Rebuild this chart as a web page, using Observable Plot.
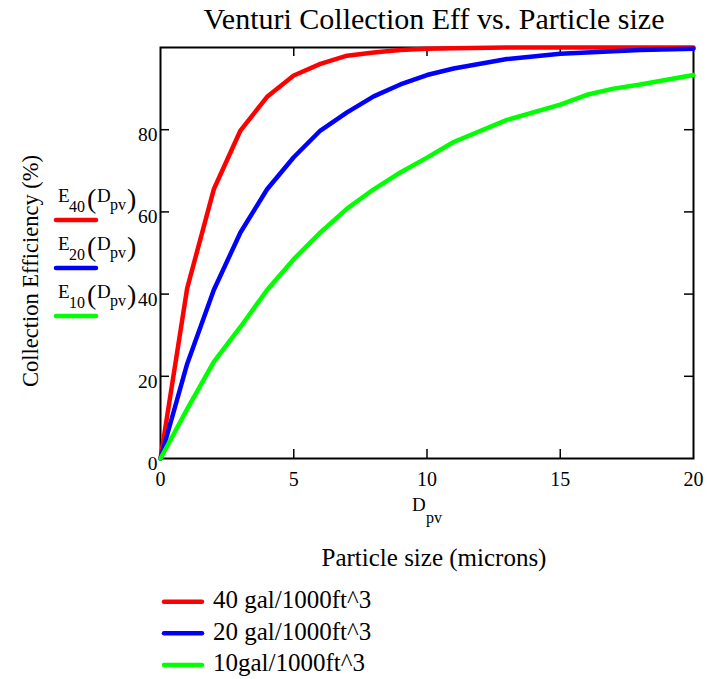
<!DOCTYPE html>
<html><head><meta charset="utf-8">
<script src="https://cdn.jsdelivr.net/npm/d3@7"></script>
<script src="https://cdn.jsdelivr.net/npm/@observablehq/plot@0.6"></script>
<style>body{margin:0;background:#fff} svg text{font-family:"Liberation Serif","Times New Roman",serif !important}</style>
</head><body><div id="chart"></div>
<script>
// Particle size (microns)
const sizes = [0, 1, 2, 3, 4, 5, 6, 7, 8, 9, 10, 11, 13, 15, 16, 17, 18, 20];
// Collection efficiency (%)
const e40 = [0, 41.4, 65.5, 79.8, 88, 93.2, 96, 98, 98.8, 99.4, 99.7, 99.8, 100, 100, 100, 100, 100, 100];
const e20 = [0, 23, 41, 55, 65.5, 73.3, 79.8, 84.2, 88.1, 91, 93.3, 94.9, 97.2, 98.5, 98.8, 99.1, 99.4, 99.7];
const e10 = [0, 12, 23.5, 32, 41, 48.5, 55, 60.8, 65.5, 69.6, 73.2, 77, 82.4, 86.1, 88.5, 90, 91, 93.3];
const seriesNames = ["E40", "E20", "E10"];
const seriesSubs = ["40", "20", "10"];
const colors = ["#ff0000", "#0000ff", "#00ff00"];
const legendLabels = ["40 gal/1000ft^3", "20 gal/1000ft^3", "10gal/1000ft^3"];
const xTicks = [0, 5, 10, 15, 20];
const yTicks = [0, 20, 40, 60, 80];
const titleText = "Venturi Collection Eff vs. Particle size";
const yLabel = "Collection Efficiency (%)";
const xLabel = "Particle size (microns)";

const rows = [];
[e40, e20, e10].forEach((vals, k) => vals.forEach((v, i) => rows.push({size: sizes[i], eff: v, series: seriesNames[k]})));

const W = 707, H = 679, mL = 160, mR = 14, mT = 47, mB = 221;
const fw = W - mL - mR, fh = H - mT - mB;
const font = "'Liberation Serif', 'Times New Roman', serif";

const chart = Plot.plot({
  width: W, height: H,
  marginLeft: mL, marginRight: mR, marginTop: mT, marginBottom: mB,
  style: {fontFamily: font, background: "white", color: "black", overflow: "visible"},
  x: {domain: [0, 20]},
  y: {domain: [0, 100]},
  color: {domain: seriesNames, range: colors},
  marks: [
    Plot.ruleX(xTicks.slice(1, -1), {insetTop: fh - 9, stroke: "black", strokeWidth: 1.5}),
    Plot.ruleX(xTicks.slice(1, -1), {insetBottom: fh - 9, stroke: "black", strokeWidth: 1.5}),
    Plot.ruleY(yTicks.slice(1), {insetRight: fw - 9, stroke: "black", strokeWidth: 1.5}),
    Plot.ruleY(yTicks.slice(1), {insetLeft: fw - 9, stroke: "black", strokeWidth: 1.5}),
    Plot.axisX({ticks: xTicks, tickSize: 0, tickPadding: 27, lineAnchor: "bottom", fontSize: 20, label: null}),
    Plot.axisY({ticks: yTicks, tickSize: 0, tickPadding: 3, lineAnchor: "bottom", dy: 11.5, fontSize: 19.5, label: null}),
    Plot.frame({stroke: "black", strokeWidth: 2}),
    Plot.line(rows, {x: "size", y: "eff", z: "series", stroke: "series", strokeWidth: 4.5})
  ]
});
document.getElementById("chart").appendChild(chart);

const svg = d3.select(chart);
const g = svg.append("g").attr("fill", "black").attr("text-anchor", "start");
g.append("text").attr("x", 434).attr("y", 29).attr("text-anchor", "middle").attr("font-size", 30).text(titleText);
g.append("text").attr("transform", "translate(38,271) rotate(-90)").attr("text-anchor", "middle").attr("font-size", 22.5).text(yLabel);
g.append("text").attr("x", 434).attr("y", 566).attr("text-anchor", "middle").attr("font-size", 25).text(xLabel);
const dl = g.append("text").attr("text-anchor", "start");
dl.append("tspan").attr("x", 412).attr("y", 511).attr("font-size", 19).text("D");
dl.append("tspan").attr("x", 426).attr("y", 523).attr("font-size", 16).text("pv");

seriesNames.forEach((s, k) => {
  const by = 202 + 48 * k;
  const t = g.append("text").attr("text-anchor", "start");
  t.append("tspan").attr("x", 58).attr("y", by).attr("font-size", 19).text("E");
  t.append("tspan").attr("x", 69).attr("y", by + 10).attr("font-size", 16).text(seriesSubs[k]);
  t.append("tspan").attr("x", 87).attr("y", by + 6).attr("font-size", 28).text("(");
  t.append("tspan").attr("x", 97).attr("y", by).attr("font-size", 19).text("D");
  t.append("tspan").attr("x", 110).attr("y", by + 8).attr("font-size", 16).text("pv");
  t.append("tspan").attr("x", 127).attr("y", by + 6).attr("font-size", 28).text(")");
  g.append("line").attr("x1", 56).attr("x2", 96).attr("y1", by + 18).attr("y2", by + 18)
    .attr("stroke", colors[k]).attr("stroke-width", 4.5).attr("stroke-linecap", "round");

  const ly = 601.7 + 31.6 * k;
  g.append("line").attr("x1", 164).attr("x2", 202).attr("y1", ly).attr("y2", ly)
    .attr("stroke", colors[k]).attr("stroke-width", 4.5).attr("stroke-linecap", "round");
  g.append("text").attr("x", 213).attr("y", ly + 6.5).attr("text-anchor", "start").attr("font-size", 25).text(legendLabels[k]);
});
</script></body></html>
